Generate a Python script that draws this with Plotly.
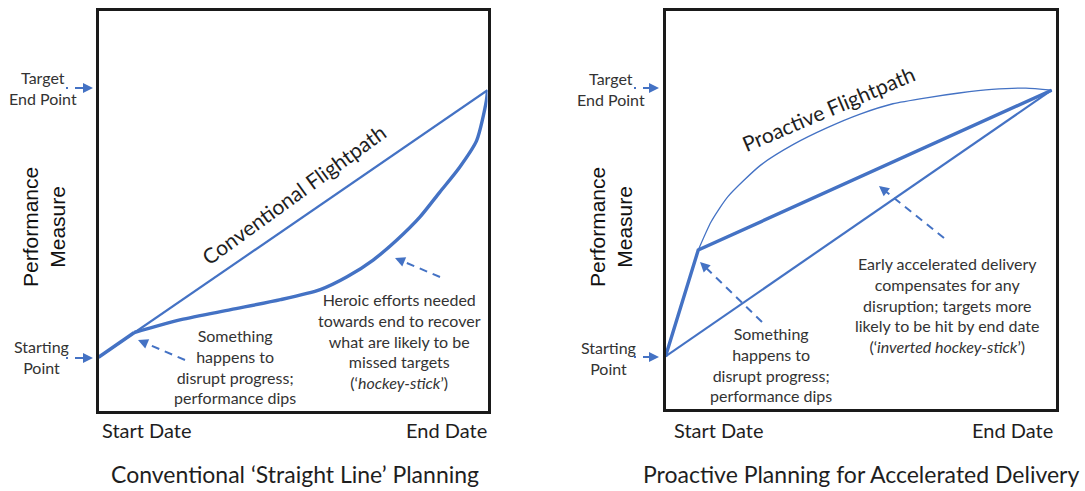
import math
import plotly.graph_objects as go

W, H = 1085, 491

# ---------------- data (x: % of timeline, y: % of performance scale) ----------------
# Left panel: conventional straight-line planning
conv_x = [0.0, 100.0]
conv_y = [13.4, 80.1]
dip_x = [0.0, 9.2]
dip_y = [13.4, 19.6]
hockey_x = [9.2, 21.2, 34.0, 46.8, 57.0, 63.9, 70.6, 76.7, 82.6, 87.7, 92.8, 97.2, 99.7, 100.0]
hockey_y = [19.6, 22.8, 25.3, 27.8, 30.3, 33.5, 37.7, 42.7, 48.4, 54.6, 60.8, 67.5, 77.4, 80.1]

# Right panel: proactive planning
straight_x = [0.0, 99.0]
straight_y = [13.2, 80.0]
accel_x = [0.0, 8.4, 99.0]
accel_y = [13.2, 39.9, 80.0]
arc_x = [8.4, 11.7, 16.0, 24.4, 32.8, 41.5, 49.9, 58.3, 66.9, 75.3, 83.7, 92.4, 99.0]
arc_y = [39.9, 47.0, 53.3, 61.2, 66.4, 70.6, 74.0, 76.6, 78.1, 79.3, 80.2, 80.5, 80.0]

BLUE = "#4472C4"
TXT = "#333333"
DARK = "#1e1e1e"
FONT = "Lato"


def px(x):
    return x / W


def py(y):
    return 1 - y / H


fig = go.Figure()

fig.add_trace(go.Scatter(x=conv_x, y=conv_y, mode="lines", line=dict(color=BLUE, width=2.2),
                         xaxis="x", yaxis="y", hoverinfo="skip"))
fig.add_trace(go.Scatter(x=dip_x, y=dip_y, mode="lines", line=dict(color=BLUE, width=3.4),
                         xaxis="x", yaxis="y", hoverinfo="skip"))
fig.add_trace(go.Scatter(x=hockey_x, y=hockey_y, mode="lines",
                         line=dict(color=BLUE, width=3.4, shape="spline", smoothing=0.7),
                         xaxis="x", yaxis="y", hoverinfo="skip"))

fig.add_trace(go.Scatter(x=straight_x, y=straight_y, mode="lines", line=dict(color=BLUE, width=2.2),
                         xaxis="x2", yaxis="y2", hoverinfo="skip"))
fig.add_trace(go.Scatter(x=accel_x, y=accel_y, mode="lines", line=dict(color=BLUE, width=3.4),
                         xaxis="x2", yaxis="y2", hoverinfo="skip"))
fig.add_trace(go.Scatter(x=arc_x, y=arc_y, mode="lines",
                         line=dict(color=BLUE, width=1.3, shape="spline", smoothing=0.6),
                         xaxis="x2", yaxis="y2", hoverinfo="skip"))

axis_common = dict(range=[0, 100], showgrid=False, zeroline=False, showticklabels=False,
                   ticks="", showline=True, mirror=True, linecolor="#1a1a1a", linewidth=3,
                   fixedrange=True)

fig.update_layout(
    width=W, height=H,
    margin=dict(l=0, r=0, t=0, b=0),
    paper_bgcolor="white", plot_bgcolor="white",
    showlegend=False,
    xaxis=dict(domain=[px(98.5), px(487.5)], anchor="y", **axis_common),
    yaxis=dict(domain=[py(411), py(10.5)], anchor="x", **axis_common),
    xaxis2=dict(domain=[px(665.5), px(1055.5)], anchor="y2", **axis_common),
    yaxis2=dict(domain=[py(409), py(10.5)], anchor="x2", **axis_common),
)

annotations = []
shapes = []


def text(x, y, s, size=16, color=TXT, angle=0, family=FONT):
    annotations.append(dict(x=px(x), y=py(y), xref="paper", yref="paper", text=s,
                            showarrow=False, xanchor="center", yanchor="middle",
                            textangle=angle, align="center",
                            font=dict(family=family, size=size, color=color)))


def dashed_arrow(x0, y0, x1, y1, dash="8px,6px", width=2):
    L = math.hypot(x1 - x0, y1 - y0)
    ux, uy = (x1 - x0) / L, (y1 - y0) / L
    shapes.append(dict(type="line", xref="paper", yref="paper",
                       x0=px(x0), y0=py(y0), x1=px(x1 - ux * 6), y1=py(y1 - uy * 6),
                       line=dict(color=BLUE, width=width, dash=dash)))
    annotations.append(dict(x=px(x1), y=py(y1), xref="paper", yref="paper", text="",
                            showarrow=True, ax=-ux * 9, ay=-uy * 9, arrowhead=2,
                            arrowsize=1, arrowwidth=width, arrowcolor=BLUE, standoff=0))


# ---- left panel texts ----
text(43, 88, "Target<br>End Point", 16)
text(41, 357, "Starting<br>Point", 16)
text(44, 227, "Performance<br>Measure", 21, "#111111", -90, "Liberation Sans")
text(147, 430, "Start Date", 20, DARK)
text(446, 430, "End Date", 20, DARK)
text(295, 474, "Conventional \u2018Straight Line\u2019 Planning", 23, DARK)
text(293, 194, "Conventional Flightpath", 21, DARK, -36)
text(235, 366, "Something<br>happens to<br>disrupt progress;<br>performance dips", 16)
text(399, 341, "Heroic efforts needed<br>towards end to recover<br>what are likely to be<br>missed targets<br>(\u2018<i>hockey-stick</i>\u2019)", 16)

# ---- right panel texts ----
text(611, 89, "Target<br>End Point", 16)
text(608, 358, "Starting<br>Point", 16)
text(611, 227, "Performance<br>Measure", 21, "#111111", -90, "Liberation Sans")
text(719, 430, "Start Date", 20, DARK)
text(1012, 430, "End Date", 20, DARK)
text(861, 474, "Proactive Planning for Accelerated Delivery", 23, DARK)
text(828, 109, "Proactive Flightpath", 21, DARK, -23)
text(771, 364, "Something<br>happens to<br>disrupt progress;<br>performance dips", 16)
text(947, 305, "Early accelerated delivery<br>compensates for any<br>disruption; targets more<br>likely to be hit by end date<br>(\u2018<i>inverted hockey-stick</i>\u2019)", 16)

# ---- arrows ----
dashed_arrow(66, 88, 93, 88, dash="2px,7px,14px")
dashed_arrow(66, 358, 93, 358, dash="2px,7px,14px")
dashed_arrow(634, 88, 659, 88, dash="2px,7px,14px")
dashed_arrow(634, 357, 659, 357, dash="2px,7px,14px")
dashed_arrow(185, 360, 138, 340)
dashed_arrow(440, 277, 395, 258)
dashed_arrow(762, 322, 700, 262)
dashed_arrow(944, 238, 879, 186)

fig.update_layout(annotations=annotations, shapes=shapes)

fig.write_html("out.html", config={"displayModeBar": False},
               post_script="document.body.style.margin='0';document.body.style.overflow='hidden';")
